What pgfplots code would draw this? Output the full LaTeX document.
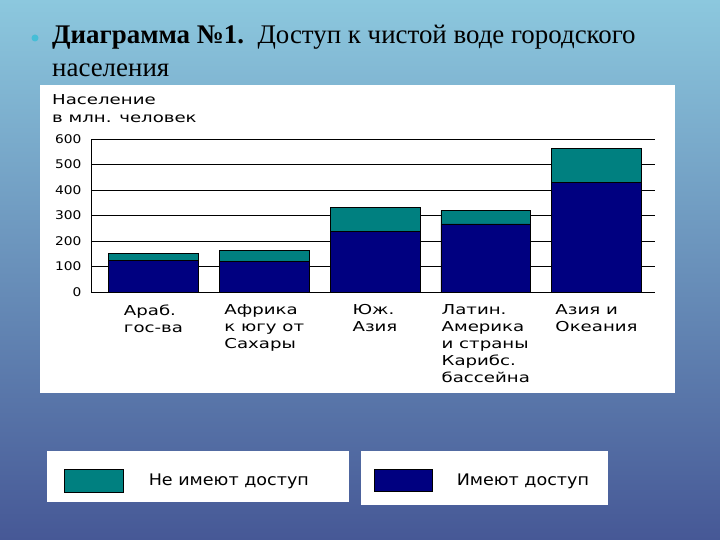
\documentclass[border=0pt]{standalone}
\usepackage{pgfplots}
\pgfplotsset{compat=1.18}
\usepackage{fontspec}
\setmainfont{Liberation Serif}
\newfontfamily\chartfont[FakeStretch=1.33]{DejaVu Sans}
\newfontfamily\tickfont[FakeStretch=1.15]{DejaVu Sans}
\newfontfamily\legfont[FakeStretch=1.1]{DejaVu Sans}
\definecolor{tealbar}{RGB}{0,128,128}
\definecolor{navybar}{RGB}{0,0,128}
\definecolor{bgtop}{RGB}{140,200,222}
\definecolor{bgmid}{RGB}{215,228,238}
\definecolor{bgbot}{RGB}{70,88,150}
\definecolor{bullet}{RGB}{70,190,215}

\begin{document}
\begin{tikzpicture}[x=1bp,y=1bp]
% slide background and white chart panel
\shade[top color=bgtop, middle color=bgmid, bottom color=bgbot] (0,0) rectangle (720,540);
\fill[white] (40,147) rectangle (675,455);
\fill[bullet] (35,502) circle (3.5);
\node[anchor=base west, font=\fontsize{27}{32}\selectfont, inner sep=0pt] at (52,496) {\textbf{Диаграмма №1.}\ \ Доступ к чистой воде городского};
\node[anchor=base west, font=\fontsize{27}{32}\selectfont, inner sep=0pt] at (52,463) {населения};
\node[anchor=base west, font=\chartfont\fontsize{13.7}{17}\selectfont, inner sep=0pt] at (52,435) {Население};
\node[anchor=base west, font=\chartfont\fontsize{13.7}{17}\selectfont, inner sep=0pt] at (52,417) {в млн. человек};

\begin{axis}[
    at={(91bp,248bp)}, anchor=south west,
    width=564bp, height=153bp, scale only axis,
    ymin=0, ymax=600, ytick={0,100,...,600},
    xmin=-0.564, xmax=4.528,
    xtick={0,...,4},
    xticklabels={{Араб.\\гос-ва},{Африка\\к югу от\\Сахары},{Юж.\\Азия},{Латин.\\Америка\\и страны\\Карибс.\\бассейна},{Азия и\\Океания}},
    ybar stacked, bar width=0.81,
    axis lines*=left, axis line style={black, line width=0.8bp, -},
    major tick length=0pt,
    ymajorgrids, grid style={black, line width=0.8bp},
    /pgf/number format/assume math mode=true,
    yticklabel style={font=\tickfont\fontsize{12}{14}\selectfont, xshift=-6bp},
    xticklabel style={align=left, anchor=north, font=\chartfont\fontsize{13.7}{17}\selectfont, yshift=-9bp},
    legend image code/.code={\path[draw=none, fill=none] (0bp,-11bp) rectangle (0bp,15bp); \draw[#1] (0bp,-11bp) rectangle (58bp,11bp);},
    legend style={at={(0.4787,-1.0392)}, anchor=north west, draw=none, fill=white,
        inner xsep=13bp, inner ysep=14bp, font=\legfont\fontsize{16}{19}\selectfont,
        nodes={inner sep=0pt}, /tikz/every odd column/.style={column sep=24bp}},
]
\addplot[fill=navybar, draw=black, line width=0.6bp] coordinates {(0,124) (1,119) (2,238) (3,267) (4,430)};
\addlegendentry{\makebox[138bp][l]{Имеют доступ}}
\addplot[fill=tealbar, draw=black, line width=0.6bp] coordinates {(0,26) (1,43) (2,95) (3,53) (4,132)};
\end{axis}

\begin{axis}[
    at={(91bp,248bp)}, anchor=south west,
    width=564bp, height=153bp, scale only axis,
    hide axis, xmin=0, xmax=1, ymin=0, ymax=1,
    legend image code/.code={\path[draw=none, fill=none] (0bp,-11.5bp) rectangle (0bp,19.5bp); \draw[#1] (0bp,-11.5bp) rectangle (59bp,11.5bp);},
    legend style={at={(-0.078,-1.0392)}, anchor=north west, draw=none, fill=white,
        inner xsep=17bp, inner ysep=10bp, font=\legfont\fontsize{16}{19}\selectfont,
        nodes={inner sep=0pt}, /tikz/every odd column/.style={column sep=25bp}},
]
\addlegendimage{fill=tealbar, draw=black, line width=0.6bp}
\addlegendentry{\makebox[183bp][l]{Не имеют доступ}}
\end{axis}
\end{tikzpicture}
\end{document}
